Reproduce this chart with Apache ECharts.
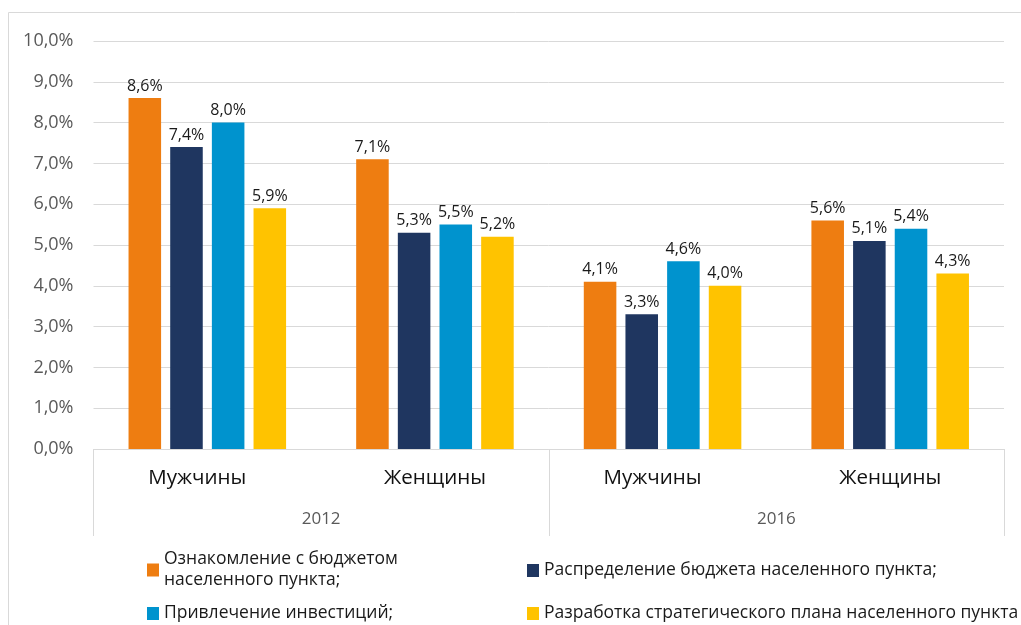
<!DOCTYPE html>
<html>
<head>
<meta charset="utf-8">
<script src="https://cdn.jsdelivr.net/npm/echarts@6/dist/echarts.min.js"></script>
<style>
  html, body { margin: 0; padding: 0; background: #fff; }
  #chart { width: 1021px; height: 625px; }
</style>
</head>
<body>
<div id="chart"></div>
<script>
// подписи категорий и годов
var categories = ['Мужчины', 'Женщины', 'Мужчины', 'Женщины'];
var years = ['2012', '2016'];
var seriesNames = [
  'Ознакомление с бюджетом населенного пункта;',
  'Распределение бюджета населенного пункта;',
  'Привлечение инвестиций;',
  'Разработка стратегического плана населенного пункта'
];
// значения, %
var budgetIntro = [8.6, 7.1, 4.1, 5.6];
var budgetDistrib = [7.4, 5.3, 3.3, 5.1];
var investments = [8.0, 5.5, 4.6, 5.4];
var stratPlan = [5.9, 5.2, 4.0, 4.3];
var colors = ['#EE7D11', '#1F3660', '#0093CE', '#FFC300'];

var FONT = '"Open Sans", sans-serif';
var fmt = function (v) { return v.toFixed(1).replace('.', ',') + '%'; };

var myChart = echarts.init(document.getElementById('chart'));

var mkSeries = function (i, data) {
  return {
    name: seriesNames[i],
    type: 'bar',
    xAxisIndex: 0,
    data: data,
    barWidth: '14.3%',
    barGap: '28%',
    itemStyle: { color: colors[i] },
    label: {
      show: true,
      position: 'top',
      distance: 4,
      fontFamily: FONT,
      fontSize: 16,
      color: '#1a1a1a',
      formatter: function (p) { return fmt(p.value); }
    }
  };
};

// отдельная легенда на каждую серию, чтобы разложить в 2 колонки
var legendPos = [
  { left: 147, top: 549 },
  { left: 527, top: 560 },
  { left: 147, top: 603 },
  { left: 527, top: 603 }
];
var legends = legendPos.map(function (p, i) {
  return {
    left: p.left,
    top: p.top,
    padding: 0,
    data: [seriesNames[i]],
    icon: 'rect',
    itemWidth: 12,
    itemHeight: 13,
    selectedMode: false,
    formatter: function (name) {
      return name === seriesNames[0] ? 'Ознакомление с бюджетом\nнаселенного пункта;' : name;
    },
    textStyle: { fontFamily: FONT, fontSize: 17.5, color: '#1a1a1a', lineHeight: 21 }
  };
});

var option = {
  animation: false,
  color: colors,
  graphic: [{
    type: 'rect',
    shape: { x: 8.5, y: 12.5, width: 1100, height: 700 },
    style: { fill: 'none', stroke: '#d9d9d9', lineWidth: 1 },
    silent: true
  }],
  grid: { left: 93.5, right: 17, top: 41, bottom: 176 },
  legend: legends,
  xAxis: [
    {
      type: 'category',
      data: categories,
      position: 'bottom',
      axisLine: { lineStyle: { color: '#d9d9d9', width: 1 } },
      axisTick: { show: false },
      axisLabel: {
        fontFamily: FONT, fontSize: 20.5, color: '#111', margin: 19,
        // в оригинале «Мужчины» смещены влево (хвостовой пробел в подписи)
        formatter: function (v) { return v === 'Мужчины' ? '{m|' + v + '}' : v; },
        rich: { m: { fontFamily: FONT, fontSize: 20.5, color: '#111', padding: [0, 20, 0, 0] } }
      }
    },
    {
      type: 'category',
      data: years,
      position: 'bottom',
      offset: 0,
      axisLine: { show: false },
      axisTick: { show: true, length: 87, lineStyle: { color: '#d9d9d9', width: 1 } },
      axisLabel: { fontFamily: FONT, fontSize: 17, color: '#595959', margin: 62 }
    }
  ],
  yAxis: {
    type: 'value',
    min: 0,
    max: 10,
    interval: 1,
    axisLine: { show: false },
    axisTick: { show: false },
    splitLine: { lineStyle: { color: '#d9d9d9', width: 1 } },
    axisLabel: { fontFamily: FONT, fontSize: 18, color: '#595959', margin: 20, formatter: fmt }
  },
  series: [
    mkSeries(0, budgetIntro),
    mkSeries(1, budgetDistrib),
    mkSeries(2, investments),
    mkSeries(3, stratPlan)
  ]
};

myChart.setOption(option);
</script>
</body>
</html>
